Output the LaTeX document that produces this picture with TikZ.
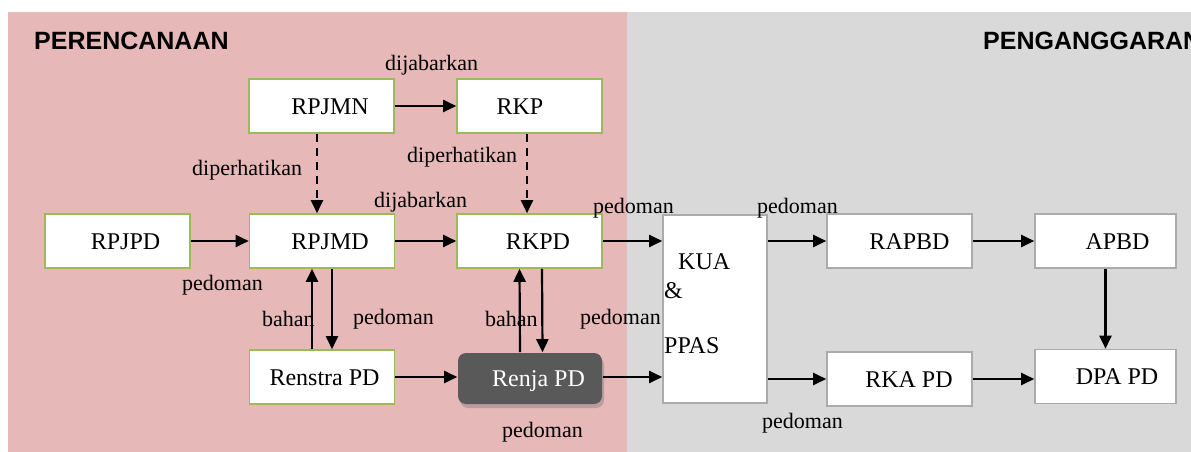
\documentclass[tikz,border=0pt]{standalone}
\usepackage{fontspec}
\setmainfont{Liberation Serif}
\newfontfamily\arialfont{Liberation Sans}
\usetikzlibrary{arrows.meta,shadows}
\definecolor{pinkbg}{HTML}{E6B8B7}
\definecolor{graybg}{HTML}{D9D9D9}
\definecolor{boxgreen}{HTML}{9BBB59}
\definecolor{boxgray}{HTML}{ABABAB}
\definecolor{renjafill}{HTML}{595959}
\tikzset{
  basebox/.style={line width=1.6pt, fill=white, minimum width=145pt, minimum height=54pt,
    inner sep=0pt, font=\fontsize{24}{28}\selectfont, text height=16pt, text depth=0pt},
  gbox/.style={basebox, draw=boxgreen},
  ybox/.style={basebox, draw=boxgray},
  arr/.style={line width=2.2pt, -{Triangle[length=13pt,width=12pt]}},
  darr/.style={arr, dash pattern=on 8pt off 6pt},
  lbl/.style={anchor=base west, inner sep=0pt, font=\fontsize{22}{26}\selectfont},
  ttl/.style={anchor=base west, inner sep=0pt, font=\arialfont\bfseries\fontsize{25}{30}\selectfont},
  kuatxt/.style={anchor=base west, inner sep=0pt, font=\fontsize{24}{28}\selectfont}
}
\begin{document}
\begin{tikzpicture}[x=1pt,y=-1pt]
\useasboundingbox (0,0) rectangle (1191,452);
\fill[white] (0,0) rectangle (1191,452);
\fill[pinkbg] (8,12) rectangle (627,452);
\fill[graybg] (627,12) rectangle (1191,452);

\node[ttl] (ttlA) at (34,49) {PERENCANAAN};
\node[ttl] (ttlB) at (983,49) {PENGANGGARAN};

% boxes
\node[gbox] (rpjmn) at (321.5,106) {\hspace*{17pt}RPJMN};
\node[gbox] (rkp) at (529.5,106) {RKP\hspace*{19pt}};
\node[gbox] (rpjpd) at (117.5,241) {\hspace*{16pt}RPJPD};
\node[gbox] (rpjmd) at (322,241) {\hspace*{16pt}RPJMD};
\node[gbox] (rkpd) at (529.5,241) {\hspace*{17pt}RKPD};
\node[gbox] (renstra) at (322,377) {\hspace*{5pt}Renstra PD};
\node[basebox, draw=none, fill=renjafill, text=white, minimum width=144pt, minimum height=51pt,
  rounded corners=8pt, drop shadow={opacity=0.45, shadow xshift=2pt, shadow yshift=-4pt}]
  (renja) at (530,378.5) {\hspace*{17pt}Renja PD};
\node[ybox, minimum width=104pt, minimum height=188pt] (kua) at (715,309) {};
\node[ybox] (rapbd) at (899.5,241) {\hspace*{20pt}RAPBD};
\node[ybox, minimum width=141pt] (apbd) at (1105.5,241) {\hspace*{24pt}APBD};
\node[ybox] (rka) at (899.5,379) {\hspace*{19pt}RKA PD};
\node[ybox, minimum width=141pt] (dpa) at (1105.5,376.5) {\hspace*{23pt}DPA PD};

% KUA & PPAS text
\node[kuatxt] (kuaA) at (678,269) {KUA};
\node[kuatxt] (kuaB) at (664,298) {\&};
\node[kuatxt] (kuaC) at (664,353) {PPAS};

% connectors
\draw[arr] (rpjmn.east) -- (rpjmn.east -| rkp.west);
\draw[darr] ([xshift=-4.5pt]rpjmn.south) -- ([xshift=-5pt]rpjmd.north);
\draw[darr] ([xshift=-2.5pt]rkp.south) -- ([xshift=-2.5pt]rkpd.north);
\draw[arr] (rpjpd.east) -- (rpjpd.east -| rpjmd.west);
\draw[arr] (rpjmd.east) -- (rpjmd.east -| rkpd.west);
\draw[arr] (rkpd.east) -- (rkpd.east -| kua.west);
\draw[arr] (rapbd.west -| kua.east) -- (rapbd.west);
\draw[arr] (rapbd.east) -- (rapbd.east -| apbd.west);
\draw[arr] (apbd.south) -- (apbd.south |- dpa.north);
\draw[arr] ([xshift=-10pt]renstra.north) -- ([xshift=-10pt]rpjmd.south);
\draw[arr] ([xshift=10pt]rpjmd.south) -- ([xshift=10pt]renstra.north);
\draw[arr] ([xshift=-10pt]renja.north) -- ([xshift=-10pt]rkpd.south);
\draw[arr] ([xshift=12.5pt]rkpd.south) -- ([xshift=12.5pt]renja.north);
\draw[arr] (renstra.east) -- (renstra.east -| renja.west);
\draw[arr] ([yshift=1.5pt]renja.east) -- ([yshift=1.5pt]renja.east -| kua.west);
\draw[arr] (rka.west -| kua.east) -- (rka.west);
\draw[arr] (rka.east) -- (rka.east -| dpa.west);

% labels
\node[lbl] (l1) at (385,70.5) {dijabarkan};
\node[lbl] (l2) at (192,175) {diperhatikan};
\node[lbl] (l3) at (407,162) {diperhatikan};
\node[lbl] (l4) at (374,207) {dijabarkan};
\node[lbl] (l5) at (593,213) {pedoman};
\node[lbl] (l6) at (757,213) {pedoman};
\node[lbl] (l7) at (182,290) {pedoman};
\node[lbl] (l8) at (262,326) {bahan};
\node[lbl] (l9) at (353,324) {pedoman};
\node[lbl] (l10) at (485,326) {bahan};
\node[lbl] (l11) at (580,324) {pedoman};
\node[lbl] (l12) at (502,437) {pedoman};
\node[lbl] (l13) at (762,428) {pedoman};
\end{tikzpicture}
\end{document}
